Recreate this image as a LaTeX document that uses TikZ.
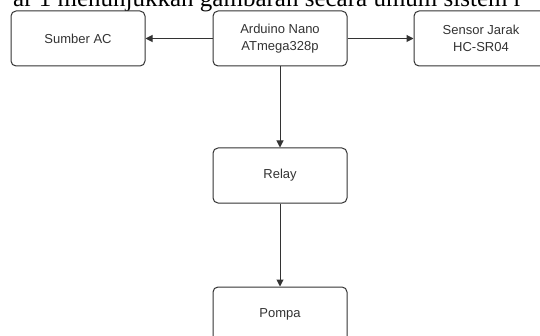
\documentclass[tikz,border=0pt]{standalone}
\usepackage{fontspec}
\setmainfont{Liberation Serif}
\newfontfamily\boxfont{Liberation Sans}
\usepackage{xcolor}
\usetikzlibrary{positioning,arrows.meta}
\definecolor{linegray}{HTML}{333333}
\tikzset{block/.style={draw=linegray,line width=1pt,rounded corners=5pt,fill=white,
    minimum width=134pt,minimum height=55pt,inner sep=0pt,align=center,
    text=linegray,font=\boxfont\fontsize{13}{17}\selectfont},
  link/.style={draw=linegray,line width=1pt,-{Triangle[length=7pt,width=7pt]}},
  page text/.style={font=\fontsize{25}{30}\selectfont,inner sep=0pt}}

\begin{document}
\begin{tikzpicture}[x=1pt,y=1pt]
	\useasboundingbox (0,0) rectangle (540,335);
	\clip (0,0) rectangle (540,335);
	\node[page text,anchor=base west] (caption) at (13,328) {ar 1 menunjukkan gambaran secara umum sistem r};

	\node[block] (arduino) at (280,296.5) {Arduino Nano\\ATmega328p};
	\node[block,left=67pt of arduino] (sumber) {Sumber AC};
	\node[block,right=66pt of arduino] (sensor) {Sensor Jarak\\HC-SR04};
	\node[block,below=81pt of arduino] (relay) {Relay};
	\node[block,below=83pt of relay] (pompa) {Pompa};

	\draw[link] (arduino) -- (sumber);
	\draw[link] (arduino) -- (sensor);
	\draw[link] (arduino) -- (relay);
	\draw[link] (relay) -- (pompa);
\end{tikzpicture}
\end{document}
